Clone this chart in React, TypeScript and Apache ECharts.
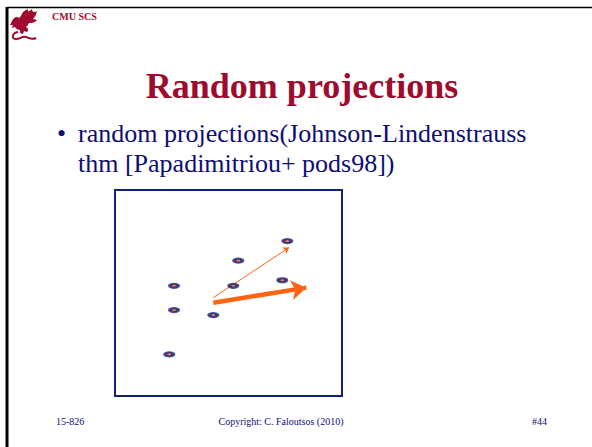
import React, { useEffect, useRef } from "react";
import * as echarts from "echarts";

// Point cloud (data units: x 0-100, y 0-100 inside the box)
const pointX = [75.9, 54.3, 26.0, 52.1, 73.7, 26.0, 43.3, 23.9];
const pointY = [75.2, 65.7, 53.5, 53.5, 56.2, 41.7, 39.3, 20.2];

// Projection arrows: [x1, y1, x2, y2]
const thinArrow = [43.3, 47.7, 76.7, 72.1];
const thickArrow = [43.3, 45.3, 84.3, 52.6];

const titleText = "Random projections";
const bulletLines = [
  "random projections(Johnson-Lindenstrauss",
  "thm [Papadimitriou+ pods98])",
];
const headerText = "CMU SCS";
const footerLeft = "15-826";
const footerCenter = "Copyright: C. Faloutsos (2010)";
const footerRight = "#44";

const NAVY = "#0d0d73";
const BOX = "#12207a";
const RED = "#9e0b2e";
const ORANGE = "#ff6314";
const FONT = "'Liberation Serif', 'Times New Roman', serif";

let registered = false;
function registerLogo() {
  if (registered) return;
  registered = true;
  echarts.graphic.registerShape(
    "dragonBody",
    echarts.graphic.extendPath(
      "M3 13 C5 9 8 8 10 10 L12 8 C13 4 16 2 19 1 C18 4 20 4 23 1 C23 4 25 5 28 3 C27 7 26 9 24 11 C26 11 27 12 28 12 C26 15 22 15 20 15 C19 17 18 18 17 19 C19 20 20 22 18 24 L15 23 L14 26 L11 25 L11 22 C9 22 7 21 6 19 L3 20 L4 17 L1 17 Z",
      {}
    )
  );
  echarts.graphic.registerShape(
    "dragonTail",
    echarts.graphic.extendPath(
      "M9 24 C3 25 2 31 7 31 C11 31 13 28 17 29 C20 30 23 32 27 30",
      {}
    )
  );
}

export default function App() {
  const ref = useRef<HTMLDivElement>(null);
  useEffect(() => {
    if (!ref.current) return;
    registerLogo();
    const chart = echarts.init(ref.current, null, { renderer: "svg" });
    const points = pointX.map((x, i) => [x, pointY[i]]);
    chart.setOption({
      animation: false,
      backgroundColor: "#ffffff",
      grid: {
        left: 115,
        top: 190,
        width: 227,
        height: 206,
        show: true,
        borderColor: BOX,
        borderWidth: 2,
        backgroundColor: "transparent",
      },
      xAxis: { type: "value", min: 0, max: 100, show: false },
      yAxis: { type: "value", min: 0, max: 100, show: false },
      series: [
        {
          type: "lines",
          coordinateSystem: "cartesian2d",
          symbol: ["none", "arrow"],
          symbolSize: 6,
          lineStyle: { color: ORANGE, width: 1, opacity: 1 },
          data: [{ coords: [[thinArrow[0], thinArrow[1]], [thinArrow[2], thinArrow[3]]] }],
          z: 3,
        },
        {
          type: "lines",
          coordinateSystem: "cartesian2d",
          symbol: ["none", "arrow"],
          symbolSize: 15,
          lineStyle: { color: ORANGE, width: 4.5, opacity: 1 },
          data: [{ coords: [[thickArrow[0], thickArrow[1]], [thickArrow[2], thickArrow[3]]] }],
          z: 3,
        },
        {
          type: "scatter",
          data: points,
          symbol: "circle",
          symbolSize: [8, 4],
          itemStyle: { color: ORANGE, borderColor: BOX, borderWidth: 3 },
          z: 4,
        },
      ],
      graphic: [
        { type: "line", shape: { x1: 7, y1: 7, x2: 7, y2: 447 }, style: { stroke: "#000", lineWidth: 3 } },
        { type: "line", shape: { x1: 7, y1: 7.5, x2: 592, y2: 7.5 }, style: { stroke: "#000", lineWidth: 1.5 } },
        { type: "dragonBody", x: 9, y: 8, style: { fill: RED } },
        { type: "dragonTail", x: 9, y: 8, style: { fill: null, stroke: RED, lineWidth: 2 } },
        {
          type: "text",
          x: 52,
          y: 16,
          style: { text: headerText, font: `bold 10px ${FONT}`, fill: RED, align: "left", verticalAlign: "middle" },
        },
        {
          type: "text",
          x: 302,
          y: 86,
          style: { text: titleText, font: `bold 36px ${FONT}`, fill: RED, align: "center", verticalAlign: "middle" },
        },
        {
          type: "text",
          x: 57,
          y: 133,
          style: { text: "•", font: `26px ${FONT}`, fill: NAVY, align: "left", verticalAlign: "middle" },
        },
        {
          type: "text",
          x: 78,
          y: 133,
          style: { text: bulletLines[0], font: `26px ${FONT}`, fill: NAVY, align: "left", verticalAlign: "middle" },
        },
        {
          type: "text",
          x: 78,
          y: 163,
          style: { text: bulletLines[1], font: `26px ${FONT}`, fill: NAVY, align: "left", verticalAlign: "middle" },
        },
        {
          type: "text",
          x: 56,
          y: 421.5,
          style: { text: footerLeft, font: `10px ${FONT}`, fill: NAVY, align: "left", verticalAlign: "middle" },
        },
        {
          type: "text",
          x: 281,
          y: 421.5,
          style: { text: footerCenter, font: `10px ${FONT}`, fill: NAVY, align: "center", verticalAlign: "middle" },
        },
        {
          type: "text",
          x: 547,
          y: 421.5,
          style: { text: footerRight, font: `10px ${FONT}`, fill: NAVY, align: "right", verticalAlign: "middle" },
        },
      ],
    });
    return () => chart.dispose();
  }, []);
  return (
    <div
      ref={ref}
      style={{ position: "absolute", left: 0, top: 0, width: 592, height: 447 }}
    />
  );
}
